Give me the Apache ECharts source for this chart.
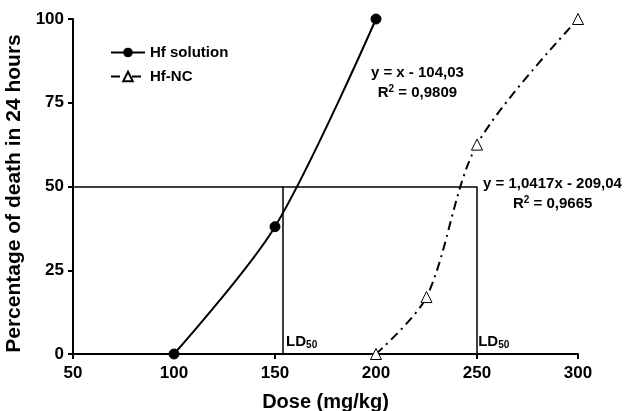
<!DOCTYPE html>
<html>
<head>
<meta charset="utf-8">
<script src="https://cdn.jsdelivr.net/npm/echarts@6/dist/echarts.min.js"></script>
<style>
  html, body { margin: 0; padding: 0; background: #fff; }
  #chart { width: 627px; height: 411px; }
</style>
</head>
<body>
<div id="chart"></div>
<script>
// dose (mg/kg) vs % death in 24 h
var solutionDose = [100, 150, 200]
var solutionDeath = [0, 38, 100]
var ncDose = [200, 225, 250, 300]
var ncDeath = [0, 17, 62.5, 100]
var ld50 = [154, 250]          // x where each fit crosses 50 %
var xTicks = [50, 100, 150, 200, 250, 300]
var yTicks = [0, 25, 50, 75, 100]

var font = 'Liberation Sans, Arial, sans-serif'

function pairs(xs, ys) {
    return xs.map(function (x, i) { return [x, ys[i]] })
}

var chart = echarts.init(document.getElementById('chart'))

var option = {
    animation: false,
    grid: { left: 73, right: 49, top: 19, bottom: 57, containLabel: false, outerBoundsMode: 'none' },
    legend: {
        orient: 'vertical',
        left: 105,
        top: 40,
        itemWidth: 34,
        itemHeight: 12,
        itemGap: 9,
        textStyle: { fontFamily: font, fontWeight: 'bold', fontSize: 15, color: '#000' },
        data: ['Hf solution', 'Hf-NC']
    },
    xAxis: {
        type: 'value',
        min: xTicks[0],
        max: xTicks[xTicks.length - 1],
        interval: 50,
        name: 'Dose (mg/kg)',
        nameLocation: 'middle',
        nameGap: 38,
        nameTextStyle: { fontFamily: font, fontWeight: 'bold', fontSize: 20, color: '#000' },
        axisLine: { lineStyle: { color: '#000', width: 2 } },
        axisTick: { show: true, length: 5, lineStyle: { color: '#000', width: 2 } },
        axisLabel: { fontFamily: font, fontWeight: 'bold', fontSize: 17, color: '#000', margin: 11 },
        splitLine: { show: false }
    },
    yAxis: {
        type: 'value',
        min: yTicks[0],
        max: yTicks[yTicks.length - 1],
        interval: 25,
        name: 'Percentage of death in 24 hours',
        nameLocation: 'middle',
        nameGap: 42,
        nameTextStyle: { fontFamily: font, fontWeight: 'bold', fontSize: 21, color: '#000', padding: [0, 14, 0, 0] },
        axisLine: { show: true, lineStyle: { color: '#000', width: 2 } },
        axisTick: { show: true, length: 5, lineStyle: { color: '#000', width: 2 } },
        axisLabel: { fontFamily: font, fontWeight: 'bold', fontSize: 17, color: '#000', margin: 9 },
        splitLine: { show: false }
    },
    series: [
        {
            name: 'Hf solution',
            type: 'line',
            data: pairs(solutionDose, solutionDeath),
            smooth: 0.3,
            symbol: 'circle',
            symbolSize: 10,
            lineStyle: { color: '#000', width: 2 },
            itemStyle: { color: '#000', borderColor: '#000' },
            z: 3,
            markLine: {
                silent: true,
                symbol: 'none',
                label: { show: false },
                lineStyle: { color: '#000', width: 1.5, type: 'solid' },
                data: [
                    [{ coord: [xTicks[0], 50] }, { coord: [ld50[1], 50] }],
                    [{ coord: [ld50[0], 0] }, { coord: [ld50[0], 50] }],
                    [{ coord: [ld50[1], 0] }, { coord: [ld50[1], 50] }]
                ]
            }
        },
        {
            name: 'Hf-NC',
            type: 'line',
            data: pairs(ncDose, ncDeath),
            smooth: 0.3,
            symbol: 'triangle',
            symbolSize: 11,
            lineStyle: { color: '#000', width: 2, type: [9, 5, 2, 5] },
            itemStyle: { color: '#fff', borderColor: '#000', borderWidth: 1 },
            z: 3
        }
    ]
}
chart.setOption(option)

// text notes placed from data coordinates
var rich = {
    sub: { fontFamily: font, fontWeight: 'bold', fontSize: 10, verticalAlign: 'bottom', padding: [7, 0, 0, 0] },
    sup: { fontFamily: font, fontWeight: 'bold', fontSize: 10, verticalAlign: 'top', padding: [0, 0, 7, 0] }
}
function note(x, y, text, align) {
    var p = chart.convertToPixel({ gridIndex: 0 }, [x, y])
    return {
        type: 'text',
        x: p[0],
        y: p[1],
        style: {
            text: text,
            fontFamily: font,
            fontWeight: 'bold',
            fontSize: 15,
            fill: '#000',
            align: align || 'center',
            verticalAlign: 'middle',
            rich: rich
        }
    }
}
chart.setOption({
    graphic: [
        note(220.5, 84.0, 'y = x - 104,03'),
        note(220.5, 78.0, 'R{sup|2} = 0,9809'),
        note(253.0, 50.8, 'y = 1,0417x - 209,04', 'left'),
        note(267.8, 44.8, 'R{sup|2} = 0,9665', 'left'),
        note(ld50[0] + 1.5, 3.6, 'LD{sub|50}', 'left'),
        note(ld50[1] + 0.6, 3.6, 'LD{sub|50}', 'left')
    ]
})
</script>
</body>
</html>
